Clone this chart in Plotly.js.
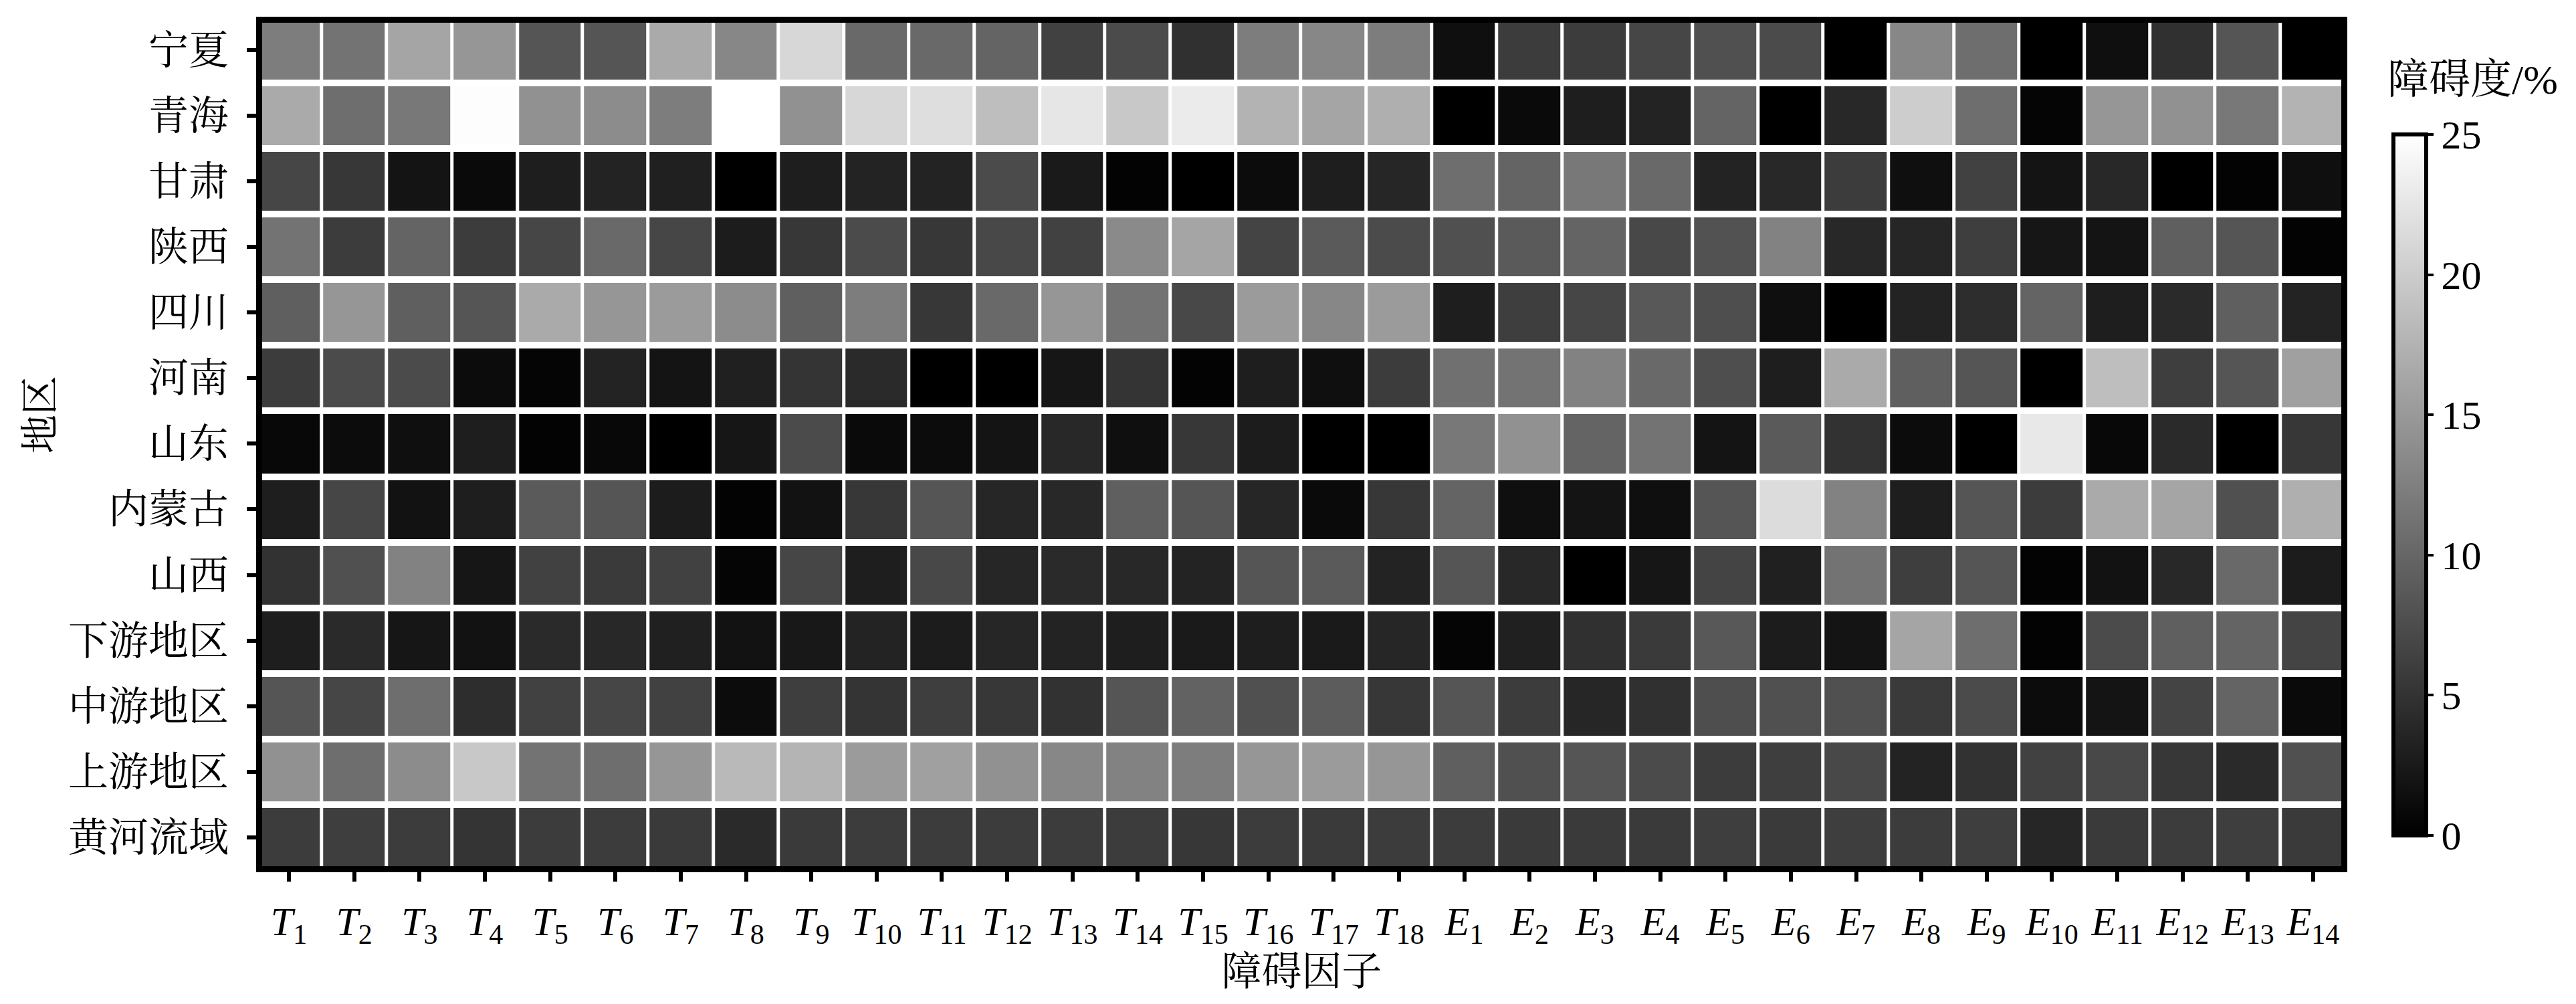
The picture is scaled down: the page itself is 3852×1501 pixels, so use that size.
<!DOCTYPE html>
<html>
<head>
<meta charset="utf-8">
<script src="https://cdn.plot.ly/plotly-3.0.1.min.js"></script>
<style>html,body{margin:0;padding:0;background:#fff;}#chart{width:3852px;height:1501px;}</style>
</head>
<body>
<div id="chart"></div>
<script>
const factors = ["T1","T2","T3","T4","T5","T6","T7","T8","T9","T10","T11","T12","T13","T14","T15","T16","T17","T18","E1","E2","E3","E4","E5","E6","E7","E8","E9","E10","E11","E12","E13","E14"];
const regions = ["宁夏","青海","甘肃","陕西","四川","河南","山东","内蒙古","山西","下游地区","中游地区","上游地区","黄河流域"];

const ningxia = [12.3,11.3,16.2,14.7,8.3,8.3,16.7,13.2,21.1,10.3,10.3,9.8,6.4,7.4,4.7,12.3,13.2,12.3,1.5,5.9,5.9,6.9,7.8,7.4,0,13.2,10.8,0,1.5,4.7,8.3,0];
const qinghai = [16.7,10.8,11.8,24.8,14.2,13.7,12.3,25,14.2,21.1,21.8,18.6,22.5,19.6,23.0,17.5,16.2,17.2,0,1.0,2.9,3.4,9.8,0,3.9,20.1,10.8,0.5,14.7,14.2,11.8,17.5];
const gansu = [6.9,5.4,2.0,1.0,2.9,3.4,3.1,0,2.9,3.4,3.4,7.4,2.5,0.3,0,1.2,2.9,3.7,10.8,9.8,11.8,10.3,3.4,3.9,5.9,1.5,6.4,2.0,3.9,0,0.3,1.5];
const shaanxi = [11.3,5.9,9.8,5.9,6.9,10.3,6.9,2.7,5.4,7.4,5.4,7.1,6.4,13.5,16.2,6.7,8.8,7.4,7.8,8.8,9.8,7.1,8.0,12.7,3.9,3.7,6.1,2.2,2.0,9.3,8.3,0.3];
const sichuan = [9.3,14.7,9.3,8.3,16.7,14.7,15.2,13.7,9.3,12.3,5.4,10.3,14.7,11.3,7.1,15.2,13.2,15.2,2.9,6.1,6.9,8.6,7.6,1.5,0,3.4,4.4,9.8,2.9,4.1,9.3,3.4];
const henan = [5.9,7.4,7.4,1.2,0.5,3.4,2.0,3.1,5.1,4.1,0,0,2.2,5.1,0.3,2.9,1.5,5.9,11.0,11.3,12.7,10.3,7.6,2.9,16.7,9.3,8.3,0,18.6,6.1,8.3,15.7];
const shandong = [0.8,1.2,1.5,2.9,0.3,0.8,0,2.2,7.4,1.0,1.2,2.0,3.9,1.5,5.4,2.7,0,0,11.8,14.2,9.8,11.3,2.0,8.8,4.9,1.2,0,22.7,0.8,4.1,0,5.4];
const neimenggu = [2.9,6.9,1.8,2.9,8.8,8.3,2.7,0.3,1.8,5.4,8.3,3.7,3.9,9.3,8.3,3.7,1.0,5.4,9.8,1.5,2.0,1.5,8.3,21.6,12.7,2.9,8.3,5.9,16.7,16.2,7.8,17.2];
const shanxi = [4.9,7.8,12.7,2.2,6.4,5.7,6.4,0.5,6.9,2.9,7.1,3.7,4.1,3.9,3.4,8.3,8.8,3.4,8.3,3.9,0,2.2,6.7,3.1,11.3,6.1,8.3,0.3,1.8,3.9,10.3,2.7];
const xiayou = [2.9,4.1,2.2,1.8,4.1,3.9,3.1,1.8,2.4,3.4,2.7,3.7,3.4,2.9,2.5,2.9,2.5,3.7,0.5,3.1,4.7,5.7,8.6,2.7,2.0,16.2,10.8,0.3,7.4,9.3,9.8,6.7];
const zhongyou = [8.3,6.9,10.8,4.4,6.4,6.9,6.4,1.2,6.1,5.1,6.1,5.4,4.9,8.3,9.6,7.8,9.0,5.4,8.3,5.9,3.7,4.7,7.6,7.8,7.8,5.7,7.4,1.2,2.0,6.7,9.8,1.0];
const shangyou = [14.2,10.8,13.7,19.6,11.3,10.8,14.7,18.1,17.6,15.2,15.7,14.2,13.2,12.7,12.3,14.7,15.2,14.7,9.3,7.8,8.3,7.4,5.9,6.1,7.1,3.4,4.9,6.4,7.1,5.4,4.1,7.8];
const huanghe = [5.9,6.1,5.9,5.1,5.9,5.9,5.7,4.1,5.7,5.9,5.9,5.9,5.9,5.9,5.4,5.9,5.7,5.9,5.9,5.7,5.7,5.7,6.1,5.7,6.1,5.9,6.1,3.7,5.7,5.9,6.1,5.7];

const matrix = [ningxia,qinghai,gansu,shaanxi,sichuan,henan,shandong,neimenggu,shanxi,xiayou,zhongyou,shangyou,huanghe];
const factorLabels = factors.map(f => "<i>" + f[0] + "</i><sub>" + f.slice(1) + "</sub>");

const FONT = '"Liberation Serif","Noto Serif CJK SC","Noto Sans CJK SC",serif';

const trace = {
  type: "heatmap",
  x: factors,
  y: regions,
  z: matrix,
  zmin: 0,
  zmax: 25,
  xgap: 5,
  ygap: 10,
  colorscale: [[0,"#000000"],[1,"#ffffff"]],
  colorbar: {
    thicknessmode: "pixels", thickness: 49,
    lenmode: "pixels", len: 1048,
    x: (3579-392)/3109, xanchor: "left", xpad: 0,
    y: (1295-201)/1261, yanchor: "top", ypad: 0,
    outlinewidth: 6, outlinecolor: "#000",
    tickmode: "array", tickvals: [0,5,10,15,20,25], ticktext: ["0","5","10","15","20","25"],
    ticks: "outside", ticklen: 8, tickwidth: 4, tickcolor: "#000",
    tickfont: {family: FONT, size: 60, color: "#000"}
  }
};

const layout = {
  width: 3852, height: 1501,
  margin: {l: 392, r: 351, t: 34, b: 206, pad: 0, autoexpand: false},
  paper_bgcolor: "#fff", plot_bgcolor: "#fff",
  font: {family: FONT, size: 60, color: "#000"},
  xaxis: {
    type: "category", range: [-0.41, 31.43],
    tickmode: "array", tickvals: factors, ticktext: factorLabels,
    tickangle: 0,
    showline: true, mirror: true, linewidth: 9, linecolor: "#000",
    ticks: "outside", ticklen: 14, tickwidth: 6, tickcolor: "#000",
    showgrid: false, zeroline: false,
    tickfont: {family: FONT, size: 60, color: "#000"},
    ticklabelstandoff: 8,
    title: {text: "障碍因子", font: {family: FONT, size: 60, color: "#000"}, standoff: 16}
  },
  yaxis: {
    type: "category", range: [12.44, -0.418],
    showline: true, mirror: true, linewidth: 9, linecolor: "#000",
    ticks: "outside", ticklen: 14, tickwidth: 6, tickcolor: "#000",
    showgrid: false, zeroline: false,
    tickfont: {family: FONT, size: 60, color: "#000"},
    ticklabelstandoff: 15
  },
  annotations: [{
    text: "地区", textangle: -90, xref: "paper", yref: "paper",
    x: (60-392)/3109, y: (1295-620)/1261, xanchor: "center", yanchor: "middle",
    showarrow: false, font: {family: FONT, size: 58, color: "#000"}
  },{
    text: "障碍度/%", xref: "paper", yref: "paper",
    x: (3697-392)/3109, y: (1295-119)/1261, xanchor: "center", yanchor: "middle",
    showarrow: false, font: {family: FONT, size: 62, color: "#000"}
  }]
};

Plotly.newPlot("chart", [trace], layout, {displayModeBar: false, responsive: false});
</script>
</body>
</html>
